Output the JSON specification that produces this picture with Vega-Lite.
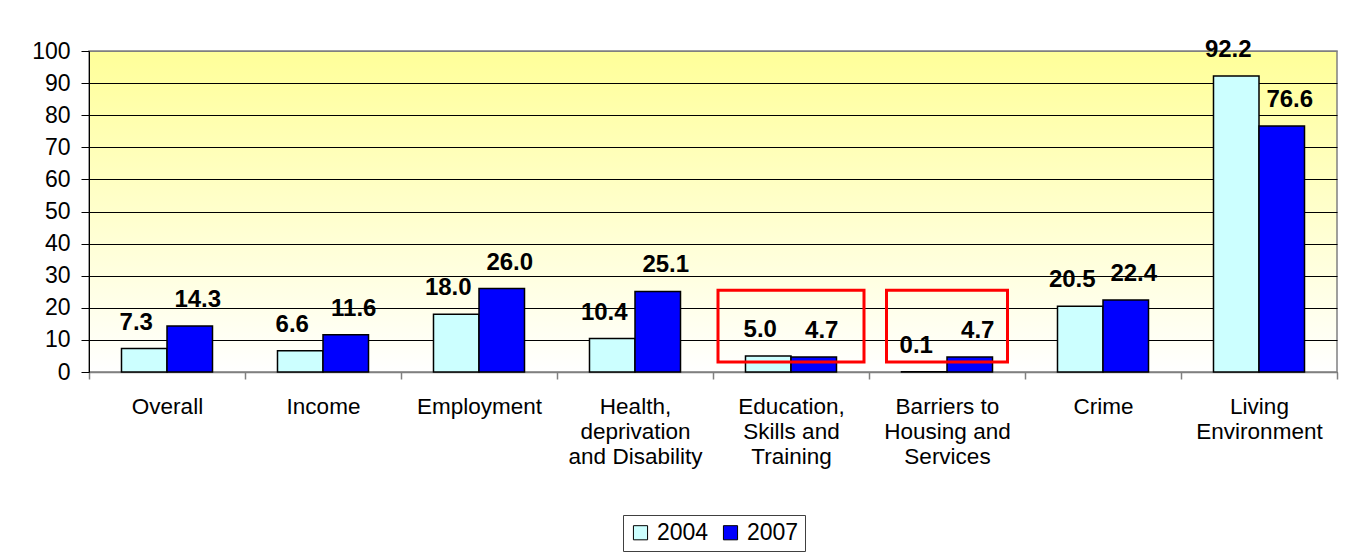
{
  "$schema": "https://vega.github.io/schema/vega-lite/v6.json",
  "width": 1248,
  "height": 321,
  "autosize": {"type": "none"},
  "padding": {"left": 89, "top": 51, "right": 19, "bottom": 186},
  "background": "white",
  "datasets": {
    "bars": [
      {"category": "Overall", "year": "2004", "value": 7.3},
      {"category": "Overall", "year": "2007", "value": 14.3},
      {"category": "Income", "year": "2004", "value": 6.6},
      {"category": "Income", "year": "2007", "value": 11.6},
      {"category": "Employment", "year": "2004", "value": 18.0},
      {"category": "Employment", "year": "2007", "value": 26.0},
      {"category": "Health, deprivation and Disability", "year": "2004", "value": 10.4},
      {"category": "Health, deprivation and Disability", "year": "2007", "value": 25.1},
      {"category": "Education, Skills and Training", "year": "2004", "value": 5.0},
      {"category": "Education, Skills and Training", "year": "2007", "value": 4.7},
      {"category": "Barriers to Housing and Services", "year": "2004", "value": 0.1},
      {"category": "Barriers to Housing and Services", "year": "2007", "value": 4.7},
      {"category": "Crime", "year": "2004", "value": 20.5},
      {"category": "Crime", "year": "2007", "value": 22.4},
      {"category": "Living Environment", "year": "2004", "value": 92.2},
      {"category": "Living Environment", "year": "2007", "value": 76.6}
    ],
    "boxes": [
      {"category": "Education, Skills and Training", "lo": 3.1, "hi": 25.5},
      {"category": "Barriers to Housing and Services", "lo": 3.1, "hi": 25.5}
    ]
  },
  "encoding": {
    "x": {
      "field": "category", "type": "nominal", "sort": null,
      "scale": {"paddingInner": 0, "paddingOuter": 0},
      "axis": {
        "title": null,
        "labelAngle": 0,
        "labelFont": "Liberation Sans",
        "labelFontSize": 22.5,
        "labelColor": "black",
        "labelLineHeight": 25,
        "labelPadding": 16,
        "labelLimit": 0,
        "labelOverlap": false,
        "domainColor": "#808080",
        "domainWidth": 1.5,
        "tickColor": "#808080",
        "tickWidth": 1.5,
        "tickSize": 7,
        "tickBand": "extent",
        "grid": false,
        "labelExpr": "datum.label == 'Health, deprivation and Disability' ? ['Health,', 'deprivation', 'and Disability'] : datum.label == 'Education, Skills and Training' ? ['Education,', 'Skills and', 'Training'] : datum.label == 'Barriers to Housing and Services' ? ['Barriers to', 'Housing and', 'Services'] : datum.label == 'Living Environment' ? ['Living', 'Environment'] : datum.label"
      }
    },
    "y": {
      "field": "value", "type": "quantitative",
      "scale": {"domain": [0, 100], "nice": false},
      "axis": {
        "title": null,
        "values": [0, 10, 20, 30, 40, 50, 60, 70, 80, 90, 100],
        "tickCount": 11,
        "labelOverlap": false,
        "labelFont": "Liberation Sans",
        "labelFontSize": 23,
        "labelColor": "black",
        "labelPadding": 11,
        "tickSize": 8,
        "tickColor": "black",
        "domainColor": "black",
        "grid": true,
        "gridColor": {"condition": {"test": "datum.value == 100", "value": "#808080"}, "value": "black"},
        "gridOpacity": 1,
        "gridWidth": 1
      }
    }
  },
  "layer": [
    {
      "data": {"name": "bars"},
      "mark": {"type": "bar", "stroke": "black", "strokeWidth": 1.5},
      "encoding": {
        "xOffset": {
          "field": "year", "type": "nominal",
          "scale": {"paddingOuter": 0.714, "paddingInner": 0}
        },
        "fill": {
          "field": "year", "type": "nominal",
          "scale": {"domain": ["2004", "2007"], "range": ["#CCFFFF", "#0000FF"]},
          "legend": {
            "title": null,
            "orient": "none",
            "legendX": 534,
            "legendY": 464,
            "direction": "horizontal",
            "fillColor": "white",
            "strokeColor": "#404040",
            "padding": 6,
            "labelFont": "Liberation Sans",
            "labelFontSize": 23,
            "labelColor": "black",
            "labelOffset": 5,
            "columnPadding": 10,
            "symbolType": "square",
            "symbolSize": 200,
            "symbolStrokeColor": "black",
            "symbolStrokeWidth": 1
          }
        }
      }
    },
    {
      "data": {"name": "bars"},
      "transform": [{"filter": "datum.year == '2004'"}],
      "mark": {"type": "text", "font": "Liberation Sans", "fontWeight": "bold", "fontSize": 24, "baseline": "alphabetic", "dy": -19, "dx": -8, "color": "black"},
      "encoding": {
        "xOffset": {"field": "year", "type": "nominal"},
        "text": {"field": "value", "type": "quantitative", "format": ".1f"}
      }
    },
    {
      "data": {"name": "bars"},
      "transform": [{"filter": "datum.year == '2007'"}],
      "mark": {"type": "text", "font": "Liberation Sans", "fontWeight": "bold", "fontSize": 24, "baseline": "alphabetic", "dy": -19, "dx": 8, "color": "black"},
      "encoding": {
        "xOffset": {"field": "year", "type": "nominal"},
        "text": {"field": "value", "type": "quantitative", "format": ".1f"}
      }
    },
    {
      "data": {"name": "boxes"},
      "transform": [{"filter": "datum.category == 'Education, Skills and Training'"}],
      "mark": {"type": "bar", "fill": null, "fillOpacity": 0, "stroke": "#FF0000", "strokeWidth": 3, "width": 146},
      "encoding": {
        "y": {"field": "lo", "type": "quantitative"},
        "y2": {"field": "hi"}
      }
    },
    {
      "data": {"name": "boxes"},
      "transform": [{"filter": "datum.category == 'Barriers to Housing and Services'"}],
      "mark": {"type": "bar", "fill": null, "fillOpacity": 0, "stroke": "#FF0000", "strokeWidth": 3, "width": 121},
      "encoding": {
        "y": {"field": "lo", "type": "quantitative"},
        "y2": {"field": "hi"}
      }
    }
  ],
  "config": {
    "view": {
      "fill": {"gradient": "linear", "x1": 0, "y1": 0, "x2": 0, "y2": 1, "stops": [{"offset": 0, "color": "#FFFF99"}, {"offset": 1, "color": "#FFFFFF"}]},
      "stroke": "#808080",
      "strokeWidth": 1.5
    }
  }
}
